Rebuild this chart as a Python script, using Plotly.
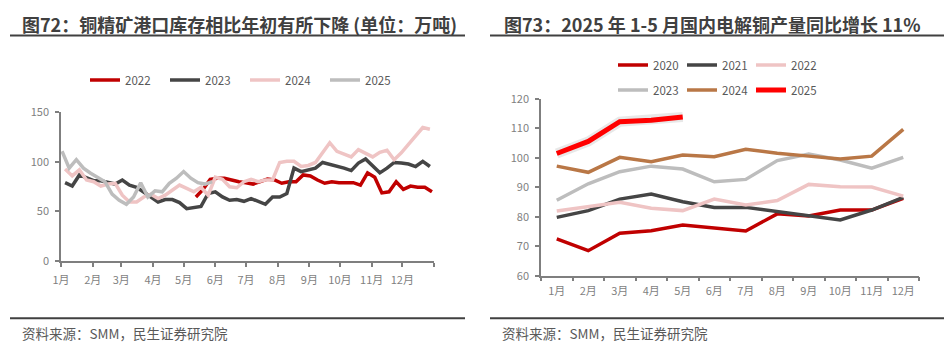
import pandas as pd
import plotly.graph_objects as go

W, H = 949, 352
FONT = "Noto Sans CJK SC"

# ---------------- Left chart data (万吨, weekly) ----------------
left_years = ["2022", "2023", "2024", "2025"]
left_start = {"2022": "2023-05-13", "2023": "2023-01-05", "2024": "2023-01-05", "2025": "2023-01-02"}
inv_2022 = [64.6, 72.2, 82.4, 83.5, 83.5, 81.7, 80, 79, 77.6, 80, 82.7, 81.7, 78.4, 80, 80, 86.8, 85.8,
            81.7, 78.4, 80, 79, 79, 79, 76.6, 88.9, 84.5, 68.7, 69.8, 80, 72.2, 75.6, 74.3, 74.3, 69.8]
inv_2023 = [79, 75.6, 86.8, 83.5, 81, 81, 79, 77.6, 81.7, 76.6, 74.3, 69.8, 64.6, 59.5, 62, 62, 58.9,
            52.8, 53.8, 55.1, 68.1, 69.8, 64.6, 61.3, 62, 60.2, 63, 60.5, 57.2, 64.6, 64.6, 68.1, 93.7,
            90.2, 92, 93.7, 99.4, 97.8, 96, 93.7, 91.2, 98.8, 102.9, 95.3, 88.9, 93.7, 99.4, 98.8, 97.8,
            95.3, 100.5, 95.3]
inv_2024 = [92.7, 85.8, 92, 81.7, 80, 75.6, 77.6, 78.4, 66.4, 59.5, 59.5, 64.6, 67.4, 63, 66.4, 71.5,
            76.6, 73.2, 69.8, 74.3, 66.4, 84.5, 82.4, 74.9, 73.9, 80, 82.4, 80, 81.7, 81.7, 99.4, 100.5,
            100.5, 95.3, 96.4, 99.4, 109.7, 119.3, 110.7, 108, 105, 112.4, 109.1, 105, 109.7, 111.7,
            102.2, 109.1, 117.6, 126, 134.6, 132.9]
inv_2025 = [110.7, 93.7, 102.2, 93.7, 88.6, 84.5, 80, 67.4, 61.3, 57.2, 64.6, 79, 64.6, 70.8, 69.8,
            78.4, 83.5, 90.2, 83.5, 79, 77.6, 80]
left_vals = {"2022": inv_2022, "2023": inv_2023, "2024": inv_2024, "2025": inv_2025}
month_labels = [f"{m}月" for m in range(1, 13)]
left_yticks = [0, 50, 100, 150]

# ---------------- Right chart data (万吨, monthly) ----------------
right_years = ["2020", "2021", "2022", "2023", "2024", "2025"]
cu_2020 = [72.5, 68.5, 74.4, 75.3, 77.2, 76.3, 75.2, 81.0, 80.3, 82.3, 82.3, 86.3]
cu_2021 = [79.8, 82.1, 86.0, 87.7, 85.1, 83.2, 83.2, 81.7, 80.4, 78.9, 82.3, 86.6]
cu_2022 = [82.0, 83.4, 84.9, 82.9, 82.1, 86.0, 84.0, 85.5, 91.0, 90.2, 90.1, 87.0]
cu_2023 = [85.6, 91.2, 95.3, 97.2, 96.2, 91.9, 92.7, 99.1, 101.3, 99.3, 96.5, 100.2]
cu_2024 = [97.2, 95.1, 100.2, 98.7, 101.0, 100.4, 102.9, 101.6, 100.6, 99.6, 100.6, 109.7]
cu_2025 = [101.5, 105.6, 112.3, 112.8, 113.9]
right_vals = {"2020": cu_2020, "2021": cu_2021, "2022": cu_2022,
              "2023": cu_2023, "2024": cu_2024, "2025": cu_2025}

left_colors = {"2022": "#C00000", "2023": "#454545", "2024": "#EFC4C4", "2025": "#BDBDBD"}
right_colors = {"2020": "#C00000", "2021": "#454545", "2022": "#EFC4C4",
                "2023": "#BDBDBD", "2024": "#B97746", "2025": "#FF0000"}


def px_x(p):
    return p / W


def px_y(p):
    return 1 - p / H


fig = go.Figure()

for yr in left_years:
    vals = left_vals[yr]
    dates = pd.date_range(left_start[yr], periods=len(vals), freq="7D")
    fig.add_trace(go.Scatter(x=dates, y=vals, mode="lines", name=yr,
                             line=dict(color=left_colors[yr], width=3.5),
                             xaxis="x", yaxis="y", legend="legend"))

for yr in right_years:
    vals = right_vals[yr]
    cats = month_labels[:len(vals)]
    lg = "legend2" if yr in ("2020", "2021", "2022") else "legend3"
    if yr == "2025":
        fig.add_trace(go.Scatter(x=cats, y=vals, mode="lines", showlegend=False,
                                 line=dict(color="rgba(0,0,0,0.09)", width=10),
                                 xaxis="x2", yaxis="y2", legend=lg, hoverinfo="skip"))
        w = 5
    else:
        w = 3.5
    fig.add_trace(go.Scatter(x=cats, y=vals, mode="lines", name=yr,
                             line=dict(color=right_colors[yr], width=w),
                             xaxis="x2", yaxis="y2", legend=lg))

month_starts = pd.date_range("2023-01-01", periods=13, freq="MS")
axis_common = dict(showgrid=False, zeroline=False, showline=True, linecolor="#7F7F7F", linewidth=1.5,
                   ticks="outside", ticklen=4, tickcolor="#7F7F7F", tickwidth=1.5, tickangle=0,
                   automargin=False, ticklabelstandoff=4,
                   tickfont=dict(family=FONT, size=11, color="#7F7F7F"))

legend_common = dict(orientation="h", xanchor="left", yanchor="middle", entrywidthmode="pixels",
                     bgcolor="rgba(0,0,0,0)", font=dict(family=FONT, size=11.5, color="#595959"),
                     itemwidth=30, tracegroupgap=0)

fig.update_layout(
    width=W, height=H, margin=dict(l=0, r=0, t=0, b=0, pad=0, autoexpand=False),
    paper_bgcolor="white", plot_bgcolor="white",
    font=dict(family=FONT),
    xaxis=dict(axis_common, type="date", domain=[px_x(61), px_x(434)],
               range=["2023-01-01", "2024-01-01"], tickvals=list(month_starts),
               ticktext=month_labels + [""], anchor="y"),
    yaxis=dict(axis_common, domain=[px_y(261), px_y(112.3)], range=[0, 150],
               tickvals=left_yticks, anchor="x"),
    xaxis2=dict(axis_common, type="category", domain=[px_x(541), px_x(919)],
                categoryorder="array", categoryarray=month_labels, range=[-0.5, 11.5],
                tickson="boundaries", anchor="y2"),
    yaxis2=dict(axis_common, domain=[px_y(275.7), px_y(99)], range=[60, 120], dtick=10, anchor="x2"),
    legend=dict(legend_common, x=px_x(85), y=px_y(80), entrywidth=35),
    legend2=dict(legend_common, x=px_x(613), y=px_y(65), entrywidth=24),
    legend3=dict(legend_common, x=px_x(613), y=px_y(90), entrywidth=24),
    showlegend=True,
)

title_font = dict(family=FONT, size=18, color="#404040")
src_font = dict(family=FONT, size=13.5, color="#595959")
fig.add_annotation(text="<b>图72：铜精矿港口库存相比年初有所下降 (单位：万吨)</b>", x=px_x(20), y=px_y(24),
                   xref="paper", yref="paper", xanchor="left", yanchor="middle", showarrow=False,
                   font=title_font)
fig.add_annotation(text="<b>图73：2025 年 1-5 月国内电解铜产量同比增长 11%</b>", x=px_x(502), y=px_y(24),
                   xref="paper", yref="paper", xanchor="left", yanchor="middle", showarrow=False,
                   font=title_font)
for x0 in (20, 500):
    fig.add_annotation(text="资料来源：SMM，民生证券研究院", x=px_x(x0), y=px_y(333),
                       xref="paper", yref="paper", xanchor="left", yanchor="middle", showarrow=False,
                       font=src_font)

for (x0, x1) in ((10, 465), (490, 944)):
    fig.add_shape(type="line", xref="paper", yref="paper", x0=px_x(x0), x1=px_x(x1),
                  y0=px_y(35.5), y1=px_y(35.5), line=dict(color="#404040", width=2))
    fig.add_shape(type="line", xref="paper", yref="paper", x0=px_x(x0), x1=px_x(x1),
                  y0=px_y(318.3), y1=px_y(318.3), line=dict(color="#404040", width=2))

fig.write_html("out.html",
               post_script="document.body.style.margin='0px';document.body.style.padding='0px';")
